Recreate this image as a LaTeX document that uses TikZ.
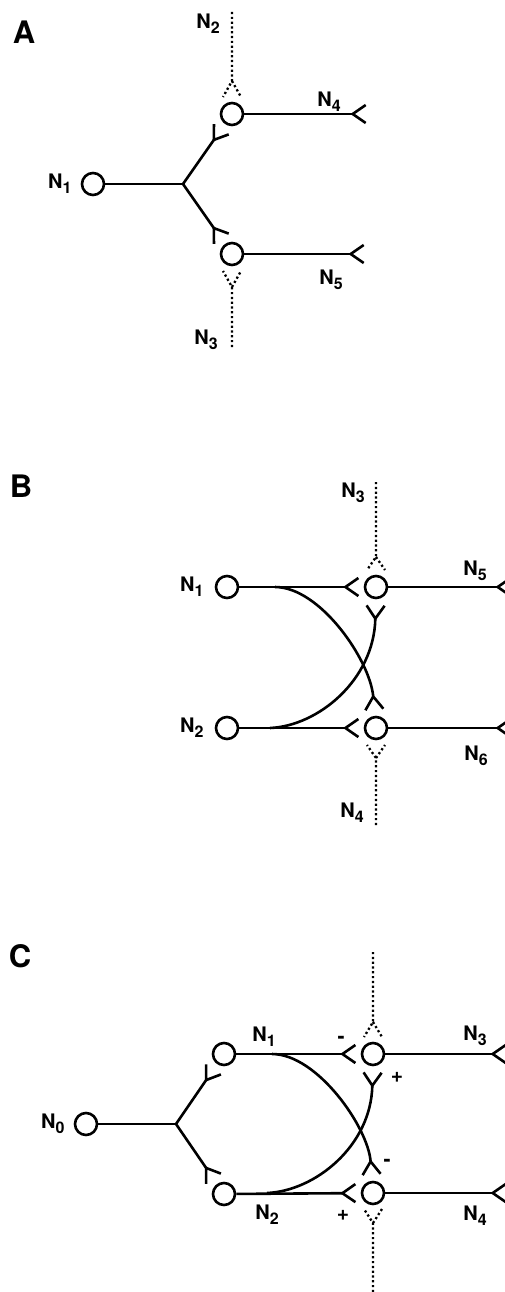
\documentclass[tikz,border=0pt]{standalone}
\usepackage{fontspec}
\setmainfont{TeX Gyre Heros}
\usetikzlibrary{arrows.meta, positioning, calc}
\newcommand{\Nlab}[1]{N\raisebox{-5pt}{\fontsize{16}{16}\selectfont #1}}
\tikzset{
  cell/.style={draw, circle, line width=2.6pt, minimum size=22pt, inner sep=0pt},
  wire/.style={line width=2.6pt},
  fork/.style={wire, -{Straight Barb[reversed, length=13pt, width=18pt]}, shorten >=5pt},
  dotline/.style={line width=2.3pt, dash pattern=on 2.2pt off 2.6pt},
  lab/.style={font=\fontsize{20}{20}\selectfont\bfseries, inner sep=0pt},
  panel/.style={font=\fontsize{31}{31}\selectfont\bfseries, inner sep=0pt},
  sign/.style={font=\fontsize{21}{21}\selectfont\bfseries, inner sep=0pt},
}

\begin{document}
\begin{tikzpicture}[x=1pt, y=-1pt]
    \useasboundingbox (0,0) rectangle (505,1292);

    % A
    \node[panel] at (24,32) {A};
    \node[cell] (aN1) at (93,184) {};
    \node[lab, left=9pt of aN1] {\Nlab1};
    \coordinate (aJ) at (183,184);
    \node[cell] (aUp) at (232,114) {};
    \node[cell] (aLo) at (232,254) {};
    \coordinate (aN4) at (367,114);
    \coordinate (aN5) at (365,254);
    \coordinate (aN2) at (232,12);
    \coordinate (aN3) at (232,347);
    \coordinate (aUv) at ($(aUp)+(0,-33)$);
    \coordinate (aLv) at ($(aLo)+(0,33)$);
    \draw[wire] (aN1) -- (aJ);
    \draw[fork] (aJ) -- (aUp);
    \draw[fork] (aJ) -- (aLo);
    \draw[fork, shorten >=0pt] (aUp) -- (aN4);
    \draw[fork, shorten >=0pt] (aLo) -- (aN5);
    \draw[dotline] (aN2) -- (aUv) -- +(-9,16) (aUv) -- +(9,16);
    \draw[dotline] (aN3) -- (aLv) -- +(-9,-16) (aLv) -- +(9,-16);
    \node[lab] at (208,24) {\Nlab2};
    \node[lab] at (206,340) {\Nlab3};
    \node[lab] at (329,102) {\Nlab4};
    \node[lab] at (331,280) {\Nlab5};

    % B
    \node[panel] at (21,486) {B};
    \node[cell] (bN1) at (227,587) {};
    \node[cell] (bN2) at (227,728) {};
    \node[lab, left=11pt of bN1] {\Nlab1};
    \node[lab, left=11pt of bN2] {\Nlab2};
    \node[cell] (bUp) at (376,587) {};
    \node[cell] (bLo) at (376,728) {};
    \coordinate (b1s) at (275,587);
    \coordinate (b2s) at (270,728);
    \coordinate (bN5) at (512,587);
    \coordinate (bN6) at (512,728);
    \coordinate (bN3) at (376,482);
    \coordinate (bN4) at (376,825);
    \coordinate (bUv) at ($(bUp)+(0,-30)$);
    \coordinate (bLv) at ($(bLo)+(0,30)$);
    \draw[fork, shorten >=4pt] (bN1) -- (bUp);
    \draw[fork, shorten >=4pt] (bN2) -- (bLo);
    \draw[fork] (b1s) .. controls (320,587) and (370,660) .. (bLo);
    \draw[fork] (b2s) .. controls (318,726) and (374,680) .. (bUp);
    \draw[fork, shorten >=0pt] (bUp) -- (bN5);
    \draw[fork, shorten >=0pt] (bLo) -- (bN6);
    \draw[dotline] (bN3) -- (bUv) -- +(-9,13) (bUv) -- +(9,13);
    \draw[dotline] (bN4) -- (bLv) -- +(-9,-13) (bLv) -- +(9,-13);
    \node[lab] at (353,493) {\Nlab3};
    \node[lab] at (352,813) {\Nlab4};
    \node[lab] at (475,571) {\Nlab5};
    \node[lab] at (476,756) {\Nlab6};

    % C
    \node[panel] at (20,956) {C};
    \node[cell] (cN0) at (86,1124) {};
    \node[lab, left=9pt of cN0] {\Nlab0};
    \coordinate (cJ) at (176,1124);
    \node[cell] (cN1) at (224,1054) {};
    \node[cell] (cN2) at (224,1194) {};
    \node[cell] (cUp) at (373,1054) {};
    \node[cell] (cLo) at (373,1193) {};
    \coordinate (c1s) at (272,1054);
    \coordinate (c2s) at (267,1193);
    \coordinate (cN3) at (507,1054);
    \coordinate (cN4) at (507,1193);
    \coordinate (cTop) at (373,952);
    \coordinate (cBot) at (373,1292);
    \coordinate (cUv) at ($(cUp)+(0,-32)$);
    \coordinate (cLv) at ($(cLo)+(0,30)$);
    \draw[wire] (cN0) -- (cJ);
    \draw[fork] (cJ) -- (cN1);
    \draw[fork] (cJ) -- (cN2);
    \draw[fork, shorten >=4pt] (cN1) -- (cUp);
    \draw[fork, shorten >=4pt] (cN2) -- (cLo);
    \draw[fork] (c1s) .. controls (317,1054) and (368,1127) .. (cLo);
    \draw[fork] (c2s) .. controls (315,1191) and (371,1146) .. (cUp);
    \draw[fork, shorten >=0pt] (cUp) -- (cN3);
    \draw[fork, shorten >=0pt] (cLo) -- (cN4);
    \draw[dotline] (cTop) -- (cUv) -- +(-9,15) (cUv) -- +(9,15);
    \draw[dotline] (cBot) -- (cLv) -- +(-9,-14) (cLv) -- +(9,-14);
    \node[lab] at (264,1037) {\Nlab1};
    \node[lab] at (267,1215) {\Nlab2};
    \node[lab] at (475,1036) {\Nlab3};
    \node[lab] at (475,1216) {\Nlab4};
    \node[sign] at (341,1040) {-};
    \node[sign] at (397,1077) {+};
    \node[sign] at (387,1163) {-};
    \node[sign] at (343,1215) {+};
\end{tikzpicture}
\end{document}
